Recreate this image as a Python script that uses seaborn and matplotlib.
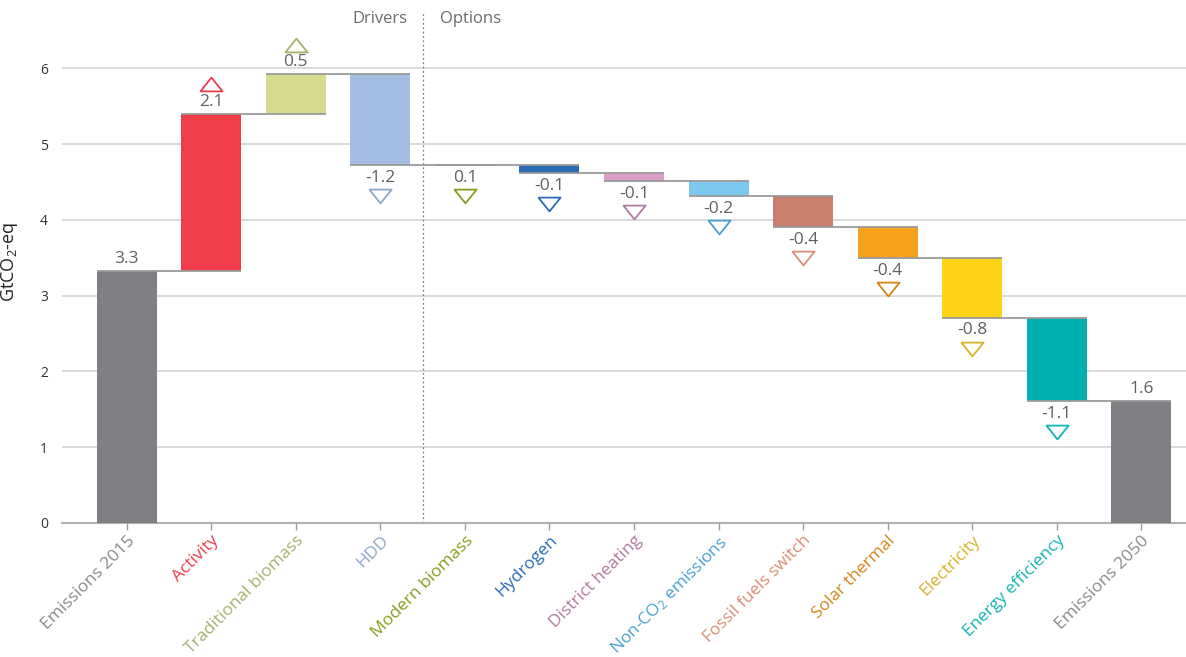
import matplotlib
matplotlib.use("Agg")
import matplotlib.pyplot as plt
import seaborn as sns
import pandas as pd

# Dados do gráfico (cascata de emissões)
categorias = ["Emissions 2015", "Activity", "Traditional biomass", "HDD",
              "Modern biomass", "Hydrogen", "District heating",
              "Non-CO$_2$ emissions", "Fossil fuels switch", "Solar thermal",
              "Electricity", "Energy efficiency", "Emissions 2050"]
emissoes_2015 = 3.32
variacoes = [2.08, 0.52, -1.20, 0.0, -0.10, -0.11, -0.20, -0.41, -0.40, -0.79, -1.10]
emissoes_2050 = 1.61
rotulos = ["3.3", "2.1", "0.5", "-1.2", "0.1", "-0.1", "-0.1", "-0.2", "-0.4",
           "-0.4", "-0.8", "-1.1", "1.6"]
sentido = ["", "up", "up", "down", "down", "down", "down", "down", "down",
           "down", "down", "down", ""]

cores_barras = ["#808084", "#EF3E4A", "#D6DB8F", "#A3BDE3", "#8C9B1E", "#2A6CB5",
                "#DC9EC6", "#7CC8EF", "#C9806F", "#F5A11C", "#FED316", "#00B0AE",
                "#808084"]
cores_texto = ["#8A8A8C", "#EF3E4A", "#A9B06E", "#8EA6CC", "#8C9B1E", "#2A6CB5",
               "#B07AA1", "#4AA0D0", "#DE8B77", "#D48418", "#D8B22A", "#13B4B4",
               "#8A8A8C"]

# Base e altura de cada barra
bases, alturas, niveis = [0.0], [emissoes_2015], [emissoes_2015]
nivel = emissoes_2015
for v in variacoes:
    bases.append(nivel)
    alturas.append(v)
    nivel += v
    niveis.append(nivel)
bases.append(0.0)
alturas.append(emissoes_2050)
niveis.append(emissoes_2050)

df = pd.DataFrame({"categoria": categorias, "altura": alturas})

plt.rcParams["font.family"] = ["Open Sans", "DejaVu Sans"]
plt.rcParams["mathtext.fontset"] = "custom"
plt.rcParams["mathtext.rm"] = "Open Sans"
plt.rcParams["mathtext.it"] = "Open Sans"

fig = plt.figure(figsize=(11.86, 6.57), dpi=100)
ax = fig.add_axes([0.052, 0.204, 0.948, 0.796])

largura = 0.71
sns.barplot(data=df, x="categoria", y="altura", order=categorias, width=largura,
            errorbar=None, bottom=bases, ax=ax, zorder=3, linewidth=0,
            color="#808084", saturation=1)
for p, c in zip(ax.patches, cores_barras):
    p.set_facecolor(c)

# Linhas de ligação
for i in range(len(categorias) - 1):
    ax.plot([i - largura / 2, i + 1 + largura / 2], [niveis[i], niveis[i]],
            color="#9a9a9a", lw=1.3, zorder=4, solid_capstyle="butt")

# Rótulos de valor e triângulos
tri = [(-1, -0.62), (1, -0.62), (0, 0.62), (-1, -0.62)]
tri_down = [(-1, 0.62), (1, 0.62), (0, -0.62), (-1, 0.62)]
for i, (rot, s) in enumerate(zip(rotulos, sentido)):
    topo = max(bases[i], bases[i] + alturas[i])
    fundo = min(bases[i], bases[i] + alturas[i])
    if s == "down":
        ax.text(i, fundo - 0.17, rot, ha="center", va="center", fontsize=12.5,
                color="#606060", zorder=5)
        ax.plot(i, fundo - 0.41, marker=tri_down, markersize=16, mfc="white",
                mec=cores_texto[i], mew=1.3, zorder=5)
    else:
        ax.text(i, topo + 0.16, rot, ha="center", va="center", fontsize=12.5,
                color="#606060", zorder=5)
        if s == "up":
            ax.plot(i, topo + 0.39, marker=tri, markersize=16, mfc="white",
                    mec=cores_texto[i], mew=1.3, zorder=5)

# Separador Drivers / Options
ax.axvline(3.5, ymin=0, ymax=6.75 / 6.9, color="#808080", lw=0.9,
           linestyle=(0, (1.5, 2)), zorder=2)
ax.text(3.32, 6.65, "Drivers", ha="right", va="center", fontsize=12, color="#6a6a6a")
ax.text(3.7, 6.65, "Options", ha="left", va="center", fontsize=12, color="#6a6a6a")

# Eixos
ax.set_xlim(-0.77, 12.53)
ax.set_ylim(0, 6.9)
ax.set_yticks([0, 1, 2, 3, 4, 5, 6])
ax.yaxis.grid(True, color="#d4d4d4", lw=1.2, zorder=0)
ax.set_axisbelow(True)
for lado in ["top", "right", "left"]:
    ax.spines[lado].set_visible(False)
ax.spines["bottom"].set_color("#b0b0b0")
ax.spines["bottom"].set_linewidth(1.5)
ax.tick_params(axis="y", length=0, pad=10, labelsize=10, labelcolor="#333333")
ax.tick_params(axis="x", length=5, color="#a0a0a0", width=1, pad=2)
ax.set_xlabel("")
ax.set_ylabel("GtCO$_2$-eq", fontsize=13, color="#222222", labelpad=14)
ax.set_xticks(range(len(categorias)))
ax.set_xticklabels(categorias, rotation=45, ha="right", rotation_mode="anchor",
                   fontsize=12.5)
for lbl, c in zip(ax.get_xticklabels(), cores_texto):
    lbl.set_color(c)

fig.savefig("out.png", dpi=100)
